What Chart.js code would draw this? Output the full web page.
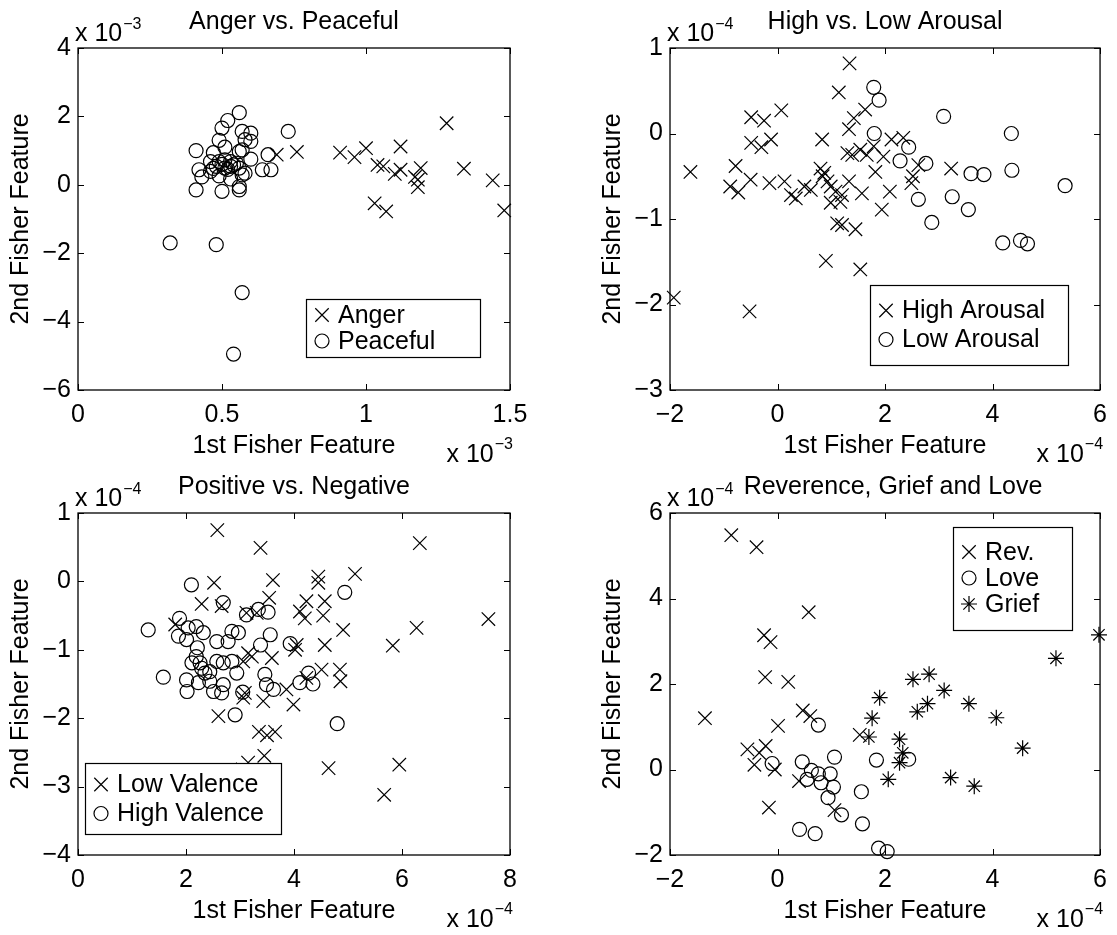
<!DOCTYPE html>
<html>
<head>
<meta charset="utf-8">
<title>Fisher features</title>
<script src="https://cdn.jsdelivr.net/npm/chart.js@4.4.0/dist/chart.umd.min.js"></script>
<style>
  body { margin: 0; background: #fff; }
  #fig { position: relative; width: 1117px; height: 935px; overflow: hidden; }
  #fig canvas { position: absolute; }
</style>
</head>
<body>
<div id="fig">
  <canvas id="c1" width="560" height="470" style="left:0;top:0"></canvas>
  <canvas id="c2" width="557" height="470" style="left:560px;top:0"></canvas>
  <canvas id="c3" width="560" height="465" style="left:0;top:470px"></canvas>
  <canvas id="c4" width="557" height="465" style="left:560px;top:470px"></canvas>
</div>
<script>
// values are in the units shown on the axes (x 10^-3 / x 10^-4)

// --- Anger vs. Peaceful (x 10^-3)
const angerX = [0.69, 0.76, 0.91, 0.96, 1.00, 1.04, 1.06, 1.10, 1.12, 1.12, 1.17, 1.18, 1.19, 1.18, 1.28, 1.34, 1.44, 1.48, 1.03, 1.07];
const angerY = [0.88, 0.96, 0.94, 0.81, 1.07, 0.58, 0.54, 0.32, 1.12, 0.44, 0.23, 0.15, 0.49, -0.07, 1.80, 0.47, 0.13, -0.75, -0.54, -0.78];
const peacefulX = [0.56, 0.52, 0.50, 0.57, 0.60, 0.73, 0.49, 0.58, 0.60, 0.51, 0.57, 0.41, 0.47, 0.56, 0.66, 0.60, 0.46, 0.49, 0.51, 0.53, 0.55, 0.48, 0.51, 0.53, 0.56, 0.42, 0.46, 0.58, 0.64, 0.67, 0.43, 0.49, 0.53, 0.57, 0.41, 0.50, 0.56, 0.56, 0.32, 0.48, 0.57, 0.54, 0.50, 0.52, 0.54, 0.47];
const peacefulY = [2.11, 1.88, 1.66, 1.56, 1.51, 1.56, 1.30, 1.32, 1.27, 1.10, 1.02, 1.00, 0.94, 0.97, 0.88, 0.75, 0.68, 0.68, 0.73, 0.68, 0.63, 0.54, 0.49, 0.54, 0.49, 0.44, 0.39, 0.34, 0.44, 0.44, 0.23, 0.26, 0.17, 0.29, -0.15, -0.19, -0.15, -0.05, -1.70, -1.75, -3.15, -4.95, 0.60, 0.45, 0.58, 0.48];

// --- High vs. Low Arousal (x 10^-4)
const highArousalX = [-1.62, 1.34, 1.14, 1.63, 1.42, 1.33, -0.49, -0.25, 0.07, -0.49, -0.30, -0.12, 0.83, -0.78, -0.88, -0.73, -0.50, -0.15, 0.13, 0.34, 0.25, 0.50, 0.62, 0.80, 0.87, 0.84, 0.93, 0.99, 1.08, 1.20, 0.99, 1.17, 1.33, 1.57, 1.94, 1.11, 1.20, 1.45, 0.90, 1.54, 1.82, 1.30, 1.39, 1.54, 1.66, 1.79, 1.97, 2.09, 2.12, 2.34, 2.62, 2.52, 2.49, 3.23, -1.93, -0.52];
const highArousalY = [-0.45, 0.82, 0.48, 0.28, 0.18, 0.05, 0.19, 0.15, 0.27, -0.11, -0.16, -0.07, -0.07, -0.38, -0.62, -0.69, -0.54, -0.58, -0.56, -0.76, -0.72, -0.62, -0.66, -0.41, -0.46, -0.50, -0.56, -0.62, -0.68, -0.72, -0.81, -0.80, -0.56, -0.70, -0.89, -1.05, -1.07, -1.12, -1.49, -1.59, -0.45, -0.23, -0.25, -0.19, -0.25, -0.15, -0.27, -0.68, -0.07, -0.05, -0.37, -0.50, -0.58, -0.41, -1.92, -2.08];
const lowArousalX = [1.79, 1.89, 1.80, 3.09, 4.35, 2.44, 2.28, 2.76, 3.60, 3.84, 4.36, 5.35, 2.62, 3.25, 3.55, 2.87, 4.19, 4.52, 4.65];
const lowArousalY = [0.54, 0.39, 0.00, 0.20, 0.00, -0.16, -0.32, -0.35, -0.47, -0.48, -0.43, -0.61, -0.77, -0.74, -0.89, -1.04, -1.28, -1.25, -1.29];

// --- Positive vs. Negative (x 10^-4)
const lowValenceX = [2.58, 3.38, 2.52, 3.61, 4.45, 4.45, 2.29, 2.66, 3.54, 4.23, 4.57, 4.11, 4.20, 4.54, 1.80, 3.12, 3.31, 4.05, 4.02, 4.57, 3.15, 3.22, 3.59, 3.06, 4.51, 4.23, 3.86, 3.09, 3.06, 3.43, 3.99, 2.60, 3.35, 3.50, 3.65, 6.33, 5.13, 4.91, 6.27, 7.60, 5.83, 4.85, 4.86, 4.64, 5.95, 5.67, 3.05, 3.15, 3.45, 3.60];
const lowValenceY = [0.75, 0.49, -0.02, 0.02, 0.07, -0.02, -0.33, -0.36, -0.24, -0.29, -0.29, -0.44, -0.54, -0.50, -0.63, -0.46, -0.46, -0.93, -1.00, -0.93, -1.05, -1.10, -1.12, -1.17, -1.29, -1.41, -1.58, -1.63, -1.70, -1.75, -1.80, -1.97, -2.20, -2.25, -2.20, 0.56, 0.11, -0.71, -0.68, -0.55, -0.94, -1.29, -1.46, -2.73, -2.68, -3.12, -2.75, -2.65, -2.55, -2.95];
const highValenceX = [2.10, 2.69, 3.12, 3.34, 3.52, 1.88, 1.30, 2.04, 2.19, 2.32, 1.86, 2.01, 2.57, 2.78, 2.85, 2.97, 3.56, 3.38, 3.93, 2.21, 2.19, 2.11, 2.26, 2.29, 2.35, 2.44, 2.57, 2.69, 2.85, 2.94, 1.58, 2.01, 2.23, 2.44, 2.69, 2.02, 2.51, 2.66, 3.05, 3.46, 3.49, 3.62, 4.27, 4.35, 4.11, 2.91, 4.94, 4.80];
const highValenceY = [-0.05, -0.31, -0.49, -0.41, -0.45, -0.54, -0.71, -0.68, -0.66, -0.75, -0.80, -0.85, -0.88, -0.88, -0.73, -0.75, -0.78, -0.93, -0.91, -0.97, -1.10, -1.19, -1.19, -1.27, -1.34, -1.32, -1.17, -1.19, -1.17, -1.34, -1.40, -1.44, -1.48, -1.46, -1.51, -1.61, -1.61, -1.63, -1.62, -1.36, -1.51, -1.58, -1.34, -1.50, -1.48, -1.95, -0.16, -2.08];

// --- Reverence, Grief and Love (x 10^-4)
const revX = [-0.86, -0.39, 0.58, -0.25, -0.13, -0.23, 0.20, -1.35, 0.01, 0.47, 0.61, 1.53, -0.56, -0.22, -0.34, -0.43, -0.05, 0.40, -0.16, 1.06];
const revY = [5.48, 5.20, 3.68, 3.14, 2.98, 2.16, 2.05, 1.20, 1.02, 1.38, 1.25, 0.81, 0.47, 0.55, 0.39, 0.11, 0.00, -0.27, -0.89, -0.95];
const loveX = [0.76, -0.10, 0.46, 1.06, 1.84, 0.63, 0.76, 0.98, 0.55, 0.81, 1.04, 0.94, 1.56, 1.19, 1.58, 0.41, 0.70, 1.88, 2.04, 2.44];
const loveY = [1.04, 0.14, 0.18, 0.29, 0.22, -0.02, -0.10, -0.10, -0.23, -0.31, -0.41, -0.66, -0.52, -1.06, -1.27, -1.40, -1.50, -1.84, -1.92, 0.24];
const griefX = [1.90, 1.76, 1.70, 2.06, 2.52, 2.82, 3.10, 2.79, 2.60, 3.56, 4.07, 2.27, 2.33, 2.27, 4.56, 3.22, 3.66, 5.18, 5.98];
const griefY = [1.68, 1.20, 0.76, -0.23, 2.11, 2.23, 1.85, 1.54, 1.35, 1.54, 1.21, 0.71, 0.39, 0.16, 0.50, -0.19, -0.39, 2.60, 3.15];

// tick labels
const ticks1X = [0, 0.5, 1, 1.5];
const ticks1Y = [-6, -4, -2, 0, 2, 4];
const ticks2X = [-2, 0, 2, 4, 6];
const ticks2Y = [-3, -2, -1, 0, 1];
const ticks3X = [0, 2, 4, 6, 8];
const ticks3Y = [-4, -3, -2, -1, 0, 1];
const ticks4X = [-2, 0, 2, 4, 6];
const ticks4Y = [-2, 0, 2, 4, 6];

const FONT = '"Liberation Sans", Arial, Helvetica, sans-serif';
const RADIUS = { crossRot: 9.5, circle: 7, star: 8 };

function fmt(v) {
  return String(v).replace('-', '\u2212');
}

function drawMarker(ctx, style, x, y) {
  const r = RADIUS[style];
  ctx.beginPath();
  if (style === 'circle') {
    ctx.arc(x, y, r, 0, Math.PI * 2);
  } else {
    const d = r * Math.SQRT1_2;
    ctx.moveTo(x - d, y - d); ctx.lineTo(x + d, y + d);
    ctx.moveTo(x - d, y + d); ctx.lineTo(x + d, y - d);
    if (style === 'star') {
      ctx.moveTo(x - r, y); ctx.lineTo(x + r, y);
      ctx.moveTo(x, y - r); ctx.lineTo(x, y + r);
    }
  }
  ctx.stroke();
}

// box, inward ticks, labels and legend, MATLAB style
function frame(cfg) {
  return {
    id: 'frame',
    afterDraw(chart) {
      const { ctx, chartArea: a, scales } = chart;
      ctx.save();
      ctx.strokeStyle = '#000';
      ctx.lineWidth = 1;
      ctx.beginPath();
      scales.x.ticks.forEach(t => {
        const px = Math.round(scales.x.getPixelForValue(t.value)) + 0.5;
        ctx.moveTo(px, a.bottom); ctx.lineTo(px, a.bottom - 6);
        ctx.moveTo(px, a.top); ctx.lineTo(px, a.top + 6);
      });
      scales.y.ticks.forEach(t => {
        const py = Math.round(scales.y.getPixelForValue(t.value)) + 0.5;
        ctx.moveTo(a.left, py); ctx.lineTo(a.left + 6, py);
        ctx.moveTo(a.right, py); ctx.lineTo(a.right - 6, py);
      });
      ctx.stroke();
      ctx.lineWidth = 1.3;
      ctx.strokeRect(a.left, a.top, a.right - a.left, a.bottom - a.top);

      ctx.fillStyle = '#000';
      ctx.textBaseline = 'alphabetic';
      const cx = (a.left + a.right) / 2;

      // title
      ctx.font = '25px ' + FONT;
      ctx.textAlign = 'center';
      ctx.fillText(cfg.title, cx + (cfg.titleShift || 0), a.top - 19);

      // exponent at top left
      ctx.textAlign = 'left';
      ctx.fillText('x 10', a.left - 3, a.top - 7);
      let w = ctx.measureText('x 10').width;
      ctx.font = '16px ' + FONT;
      ctx.fillText(fmt(cfg.expY), a.left - 3 + w + 1, a.top - 19);

      // x label and exponent at bottom right
      ctx.font = '25px ' + FONT;
      ctx.textAlign = 'center';
      ctx.fillText('1st Fisher Feature', cx, a.bottom + 63);
      ctx.font = '16px ' + FONT;
      const sup = fmt(cfg.expX);
      const sw = ctx.measureText(sup).width;
      ctx.textAlign = 'left';
      ctx.fillText(sup, a.right + 3 - sw, a.bottom + 59);
      ctx.font = '25px ' + FONT;
      ctx.textAlign = 'right';
      ctx.fillText('x 10', a.right + 2 - sw, a.bottom + 72);

      // y label
      ctx.save();
      ctx.translate(a.left - 57, (a.top + a.bottom) / 2);
      ctx.rotate(-Math.PI / 2);
      ctx.textAlign = 'center';
      ctx.textBaseline = 'middle';
      ctx.fillText('2nd Fisher Feature', 0, 0);
      ctx.restore();

      // legend
      const lg = cfg.legend;
      const x0 = a.left + lg.x, y0 = a.top + lg.y;
      ctx.fillStyle = '#fff';
      ctx.fillRect(x0, y0, lg.w, lg.h);
      ctx.lineWidth = 1.2;
      ctx.strokeRect(x0 + 0.5, y0 + 0.5, lg.w, lg.h);
      ctx.fillStyle = '#000';
      ctx.textAlign = 'left';
      ctx.textBaseline = 'middle';
      ctx.font = '25px ' + FONT;
      chart.data.datasets.forEach((ds, i) => {
        const cy = y0 + lg.pad + lg.step * (i + 0.5);
        drawMarker(ctx, ds.pointStyle, x0 + 16, cy);
        ctx.fillText(ds.label, x0 + 32, cy + 1);
      });
      ctx.restore();
    }
  };
}

function makeChart(id, cfg) {
  return new Chart(document.getElementById(id), {
    type: 'scatter',
    data: {
      datasets: cfg.series.map(s => ({
        label: s.label,
        data: s.x.map((v, i) => ({ x: v, y: s.y[i] })),
        pointStyle: s.style,
        pointRadius: RADIUS[s.style],
        pointHoverRadius: RADIUS[s.style],
        pointBorderColor: '#000',
        pointBackgroundColor: 'rgba(0,0,0,0)',
        pointBorderWidth: 1.2,
        clip: false
      }))
    },
    options: {
      responsive: false,
      animation: false,
      devicePixelRatio: 1,
      events: [],
      layout: { autoPadding: false, padding: { top: cfg.area.top, right: cfg.area.right, left: 0, bottom: 0 } },
      plugins: { legend: { display: false }, tooltip: { enabled: false } },
      scales: {
        x: {
          type: 'linear',
          min: cfg.xTicks[0],
          max: cfg.xTicks[cfg.xTicks.length - 1],
          afterBuildTicks: s => { s.ticks = cfg.xTicks.map(v => ({ value: v })); },
          afterFit: s => { s.height = cfg.area.bottom; },
          grid: { display: false, drawTicks: false },
          border: { display: false },
          ticks: { padding: 10, color: '#000', font: { family: FONT, size: 25 }, maxRotation: 0, autoSkip: false, callback: v => fmt(v) }
        },
        y: {
          type: 'linear',
          min: cfg.yTicks[0],
          max: cfg.yTicks[cfg.yTicks.length - 1],
          afterBuildTicks: s => { s.ticks = cfg.yTicks.map(v => ({ value: v })); },
          afterFit: s => { s.width = cfg.area.left; },
          grid: { display: false, drawTicks: false },
          border: { display: false },
          ticks: { padding: 7, color: '#000', font: { family: FONT, size: 25 }, autoSkip: false, callback: v => fmt(v) }
        }
      }
    },
    plugins: [frame(cfg)]
  });
}

makeChart('c1', {
  title: 'Anger vs. Peaceful', expX: -3, expY: -3,
  xTicks: ticks1X, yTicks: ticks1Y,
  area: { left: 78, top: 48, right: 50, bottom: 80 },
  legend: { x: 228, y: 251, w: 174, h: 58, pad: 3, step: 26 },
  series: [
    { label: 'Anger', style: 'crossRot', x: angerX, y: angerY },
    { label: 'Peaceful', style: 'circle', x: peacefulX, y: peacefulY }
  ]
});

makeChart('c2', {
  title: 'High vs. Low Arousal', expX: -4, expY: -4,
  xTicks: ticks2X, yTicks: ticks2Y,
  area: { left: 110, top: 48, right: 13, bottom: 80 },
  legend: { x: 200, y: 237, w: 198, h: 80, pad: 11, step: 29 },
  series: [
    { label: 'High Arousal', style: 'crossRot', x: highArousalX, y: highArousalY },
    { label: 'Low Arousal', style: 'circle', x: lowArousalX, y: lowArousalY }
  ]
});

makeChart('c3', {
  title: 'Positive vs. Negative', expX: -4, expY: -4,
  xTicks: ticks3X, yTicks: ticks3Y,
  area: { left: 78, top: 43, right: 50, bottom: 80 },
  legend: { x: 7, y: 250, w: 196, h: 71, pad: 7, step: 29 },
  series: [
    { label: 'Low Valence', style: 'crossRot', x: lowValenceX, y: lowValenceY },
    { label: 'High Valence', style: 'circle', x: highValenceX, y: highValenceY }
  ]
});

makeChart('c4', {
  title: 'Reverence, Grief and Love', titleShift: 8, expX: -4, expY: -4,
  xTicks: ticks4X, yTicks: ticks4Y,
  area: { left: 110, top: 43, right: 13, bottom: 80 },
  legend: { x: 283, y: 14, w: 119, h: 103, pad: 12, step: 26 },
  series: [
    { label: 'Rev.', style: 'crossRot', x: revX, y: revY },
    { label: 'Love', style: 'circle', x: loveX, y: loveY },
    { label: 'Grief', style: 'star', x: griefX, y: griefY }
  ]
});
</script>
</body>
</html>
